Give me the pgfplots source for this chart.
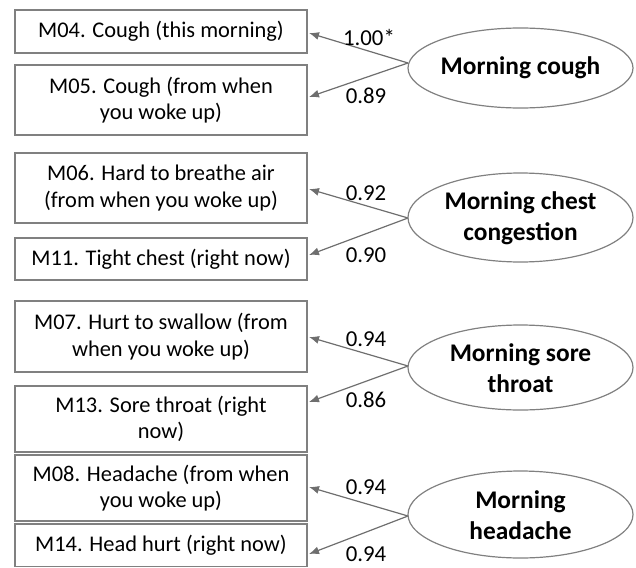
\documentclass[border=0pt]{standalone}
\usepackage{fontspec}
\setmainfont{Carlito}
\usepackage{pgfplots}
\pgfplotsset{compat=1.18}
\usetikzlibrary{arrows.meta}
\definecolor{boxc}{RGB}{128,128,128}
\definecolor{arrc}{RGB}{110,110,110}
\begin{document}
\begin{tikzpicture}
\begin{axis}[
  scale only axis, width=318pt, height=283.5pt,
  xmin=0, xmax=636, ymin=0, ymax=567, y dir=reverse,
  hide axis, clip=false,
]
\path (axis cs:0,0) rectangle (axis cs:636,567);
% boxes: left right top bottom
\addplot[boxc, line width=0.6pt] coordinates {(15,10)(307,10)(307,53)(15,53)} -- cycle;
\addplot[boxc, line width=0.6pt] coordinates {(15,65)(307,65)(307,135)(15,135)} -- cycle;
\addplot[boxc, line width=0.6pt] coordinates {(15,153)(307,153)(307,223)(15,223)} -- cycle;
\addplot[boxc, line width=0.6pt] coordinates {(15,238)(307,238)(307,280)(15,280)} -- cycle;
\addplot[boxc, line width=0.6pt] coordinates {(15,301)(307,301)(307,372)(15,372)} -- cycle;
\addplot[boxc, line width=0.6pt] coordinates {(15,386)(307,386)(307,452)(15,452)} -- cycle;
\addplot[boxc, line width=0.6pt] coordinates {(15,455)(307,455)(307,521)(15,521)} -- cycle;
\addplot[boxc, line width=0.6pt] coordinates {(15,524)(307,524)(307,566.5)(15,566.5)} -- cycle;
% arrows
\addplot[arrc, line width=0.6pt, -{Latex[length=5pt,width=4pt]}] coordinates {(408,63)(309,33)};
\addplot[arrc, line width=0.6pt, -{Latex[length=5pt,width=4pt]}] coordinates {(408,63)(309,97)};
\addplot[arrc, line width=0.6pt, -{Latex[length=5pt,width=4pt]}] coordinates {(408,218)(309,189)};
\addplot[arrc, line width=0.6pt, -{Latex[length=5pt,width=4pt]}] coordinates {(408,218)(309,255)};
\addplot[arrc, line width=0.6pt, -{Latex[length=5pt,width=4pt]}] coordinates {(408,366)(309,337)};
\addplot[arrc, line width=0.6pt, -{Latex[length=5pt,width=4pt]}] coordinates {(408,366)(309,402)};
\addplot[arrc, line width=0.6pt, -{Latex[length=5pt,width=4pt]}] coordinates {(408,516)(309,487)};
\addplot[arrc, line width=0.6pt, -{Latex[length=5pt,width=4pt]}] coordinates {(408,516)(309,554)};
% ellipses
\draw[boxc, line width=0.6pt] (axis cs:520.5,68) ellipse [x radius=56.25pt, y radius=20pt];
\draw[boxc, line width=0.6pt] (axis cs:520.5,217.5) ellipse [x radius=56.25pt, y radius=22.25pt];
\draw[boxc, line width=0.6pt] (axis cs:520.5,367.5) ellipse [x radius=56.25pt, y radius=21.25pt];
\draw[boxc, line width=0.6pt] (axis cs:520.5,514.5) ellipse [x radius=56.25pt, y radius=21.75pt];
% box texts
\tikzset{bt/.style={align=center, inner sep=0pt, font=\fontsize{11.2}{13.2}\selectfont},
         et/.style={align=center, inner sep=0pt, font=\fontsize{12.7}{15.5}\selectfont\bfseries},
         lt/.style={inner sep=0pt, font=\fontsize{11.4}{13.5}\selectfont}}
\node[bt] at (axis cs:161,31.5) {M04. Cough (this morning)};
\node[bt] at (axis cs:161,100) {M05. Cough (from when\\you woke up)};
\node[bt] at (axis cs:161,188) {M06. Hard to breathe air\\(from when you woke up)};
\node[bt] at (axis cs:161,259) {M11. Tight chest (right now)};
\node[bt] at (axis cs:161,336.5) {M07. Hurt to swallow (from\\when you woke up)};
\node[bt] at (axis cs:161,419) {M13. Sore throat (right\\now)};
\node[bt] at (axis cs:161,488) {M08. Headache (from when\\you woke up)};
\node[bt] at (axis cs:161,545) {M14. Head hurt (right now)};
% ellipse texts
\node[et] at (axis cs:520.5,68) {Morning cough};
\node[et] at (axis cs:520.5,218) {Morning chest\\congestion};
\node[et] at (axis cs:520.5,368) {Morning sore\\throat};
\node[et] at (axis cs:520.5,515) {Morning\\headache};
% loading labels
\node[lt] at (axis cs:369,37) {1.00*};
\node[lt] at (axis cs:366,96) {0.89};
\node[lt] at (axis cs:366,193) {0.92};
\node[lt] at (axis cs:366,255) {0.90};
\node[lt] at (axis cs:366,339) {0.94};
\node[lt] at (axis cs:366,400) {0.86};
\node[lt] at (axis cs:366,487) {0.94};
\node[lt] at (axis cs:366,554) {0.94};
\end{axis}
\end{tikzpicture}
\end{document}
